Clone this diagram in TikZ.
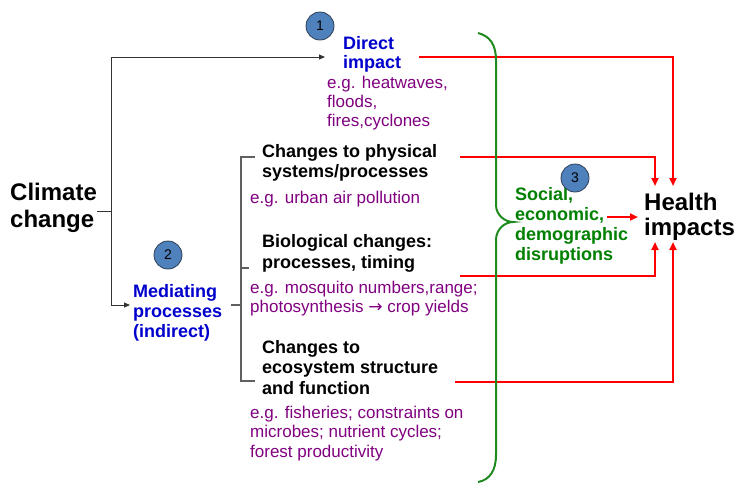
\documentclass[tikz,border=0pt]{standalone}
\usepackage{fontspec}
\setmainfont{Liberation Sans}
\newfontfamily\arrowfont{DejaVu Sans}
\usetikzlibrary{arrows.meta}
\definecolor{cblue}{HTML}{0000CC}
\definecolor{cpurple}{HTML}{800080}
\definecolor{cgreen}{HTML}{008000}
\definecolor{bracegreen}{HTML}{1E8A1E}
\definecolor{cred}{HTML}{FF0000}
\definecolor{discfill}{HTML}{4F81BD}
\definecolor{discline}{HTML}{2F3F55}
\definecolor{bracketgray}{HTML}{606060}
\tikzset{
  txt/.style={anchor=north west, inner sep=0pt, align=left},
  big/.style={txt, font=\fontsize{24}{#1}\selectfont\bfseries},
  head/.style={txt, font=\fontsize{18}{#1}\selectfont\bfseries},
  example/.style={txt, text=cpurple, font=\fontsize{17}{#1}\selectfont},
  disc/.style={circle, fill=discfill, draw=discline, line width=0.8pt,
    minimum size=28pt, inner sep=0pt, font=\fontsize{14}{14}\selectfont},
  blk/.style={draw=black!80, line width=0.9pt},
  blkarrow/.style={blk, -{Triangle[length=6pt,width=5pt]}},
  redline/.style={draw=cred, line width=2pt},
  redarrow/.style={redline, -{Triangle[length=8pt,width=7pt]}},
  bracket/.style={draw=bracketgray, line width=1.2pt},
  brace/.style={draw=bracegreen, line width=2pt}
}
\begin{document}
\begin{tikzpicture}[x=1pt, y=-1pt]
\useasboundingbox (0,0) rectangle (739,499);

% left-hand source and the two pathways
\node[big=27] (cc) at (10,182.5) {Climate\\change};
\node[head=19, text=cblue] (di) at (343,35.9) {Direct\\impact};
\node[example=19] (dieg) at (327,75.6) {e.g. heatwaves,\\floods,\\fires,cyclones};
\node[head=20, text=cblue] (med) at (133,283.9) {Mediating\\processes\\(indirect)};

% mediating processes
\node[head=20] (phys) at (262,143.9) {Changes to physical\\systems/processes};
\node[example=19] (physeg) at (250,190.6) {e.g. urban air pollution};
\node[head=21] (bio) at (262,233.9) {Biological changes:\\processes, timing};
\node[example=19] (bioeg) at (250,280.6) {e.g. mosquito numbers,range;\\photosynthesis {\arrowfont →} crop yields};
\node[head=20.5] (eco) at (262,339.9) {Changes to\\ecosystem structure\\and function};
\node[example=19.5] (ecoeg) at (250,405.6) {e.g. fisheries; constraints on\\microbes; nutrient cycles;\\forest productivity};

% outcome side
\node[head=20, text=cgreen] (soc) at (515,186.9) {Social,\\economic,\\demographic\\disruptions};
\node[big=25] (health) at (644,192.5) {Health\\impacts};

% numbered markers
\node[disc] (n1) at (320,26) {1};
\node[disc] (n2) at (168,255) {2};
\node[disc] (n3) at (575,178) {3};

% black branching from climate change
\coordinate (ccOut) at (97,211);
\coordinate (jMid) at (111,211);
\coordinate (jTop) at (111,57);
\coordinate (jBot) at (111,305);
\coordinate (diIn) at (325,57);
\coordinate (medIn) at (130,305);
\draw[blk] (ccOut) -- (jMid);
\draw[blk] (jTop) -- (jBot);
\draw[blkarrow] (jTop) -- (diIn);
\draw[blkarrow] (jBot) -- (medIn);

% gray bracket grouping the mediating processes
\coordinate (medOut) at (231,305);
\coordinate (bTop) at (241,157);
\coordinate (bMid) at (241,268);
\coordinate (bBot) at (241,381);
\draw[bracket] (medOut) -- (medOut -| bTop);
\draw[bracket] ([xshift=14pt]bTop) -- (bTop) -- (bBot) -- ++(14,0);
\draw[bracket] (bMid) -- ++(8,0);

% red paths to health impacts
\coordinate (r1s) at (419,57);
\coordinate (r1c) at (673,57);
\coordinate (r1e) at (673,186);
\coordinate (r2s) at (460,157);
\coordinate (r2c) at (655,157);
\coordinate (r2e) at (655,186);
\coordinate (r3s) at (460,276);
\coordinate (r3c) at (655,276);
\coordinate (r3e) at (655,242);
\coordinate (r4s) at (455,382);
\coordinate (r4c) at (673,382);
\coordinate (r4e) at (673,242);
\coordinate (socOut) at (607,217);
\coordinate (hIn) at (638,217);
\draw[redarrow] (r1s) -- (r1c) -- (r1e);
\draw[redarrow] (r2s) -- (r2c) -- (r2e);
\draw[redarrow] (r3s) -- (r3c) -- (r3e);
\draw[redarrow] (r4s) -- (r4c) -- (r4e);
\draw[redarrow] (socOut) -- (hIn);

% green brace
\draw[brace] (478,33) .. controls (490,36) and (496,45) .. (496,60)
  -- (496,205) .. controls (496,215) and (505,222) .. (513,222)
  .. controls (505,222) and (496,229) .. (496,240)
  -- (496,455) .. controls (496,470) and (490,480) .. (478,482);
\end{tikzpicture}
\end{document}
